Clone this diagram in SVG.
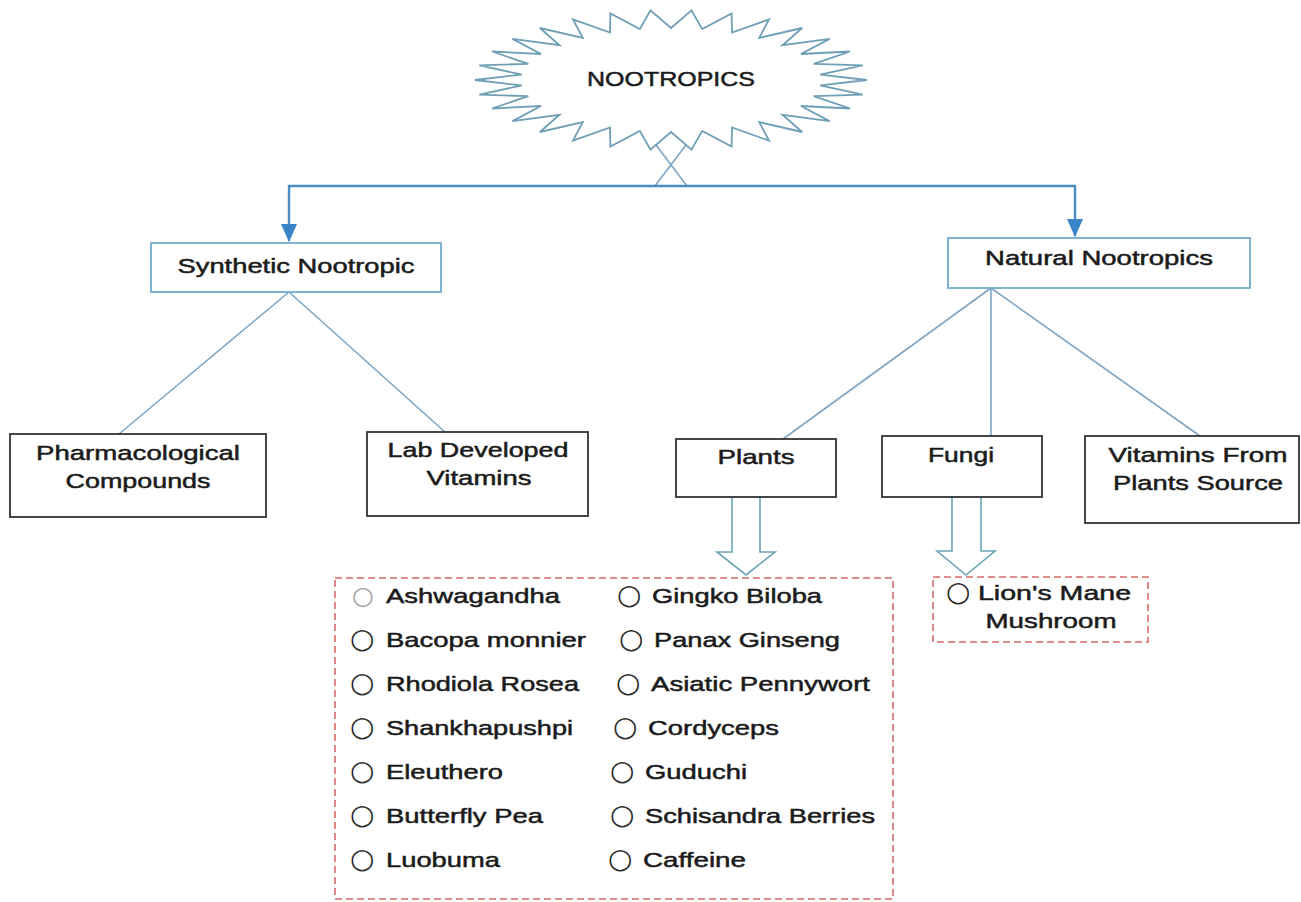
<svg xmlns="http://www.w3.org/2000/svg" width="1301" height="902" viewBox="0 0 1301 902">
<defs>
<style>
.t{font-family:"Liberation Sans",Arial,sans-serif;font-size:21px;fill:#1b1b1b;stroke:#1b1b1b;stroke-width:0.5}
.m{text-anchor:middle}
.b{font-family:"DejaVu Sans",sans-serif;font-size:28px;fill:#2a2a2a}
.blk{fill:#fff;stroke:#333;stroke-width:1.8}
.blu{fill:#fff;stroke:#7fb2d0;stroke-width:2}
.dash{fill:#fff;stroke:#d66b6b;stroke-width:1.6;stroke-dasharray:7 4}
.ln{fill:none;stroke:#7ea6c4;stroke-width:1.6}
.main{fill:none;stroke:#4a8cc4;stroke-width:2.4}
.hol{fill:#fff;stroke:#6aa5b5;stroke-width:1.6}
</style>
<marker id="ah" markerUnits="userSpaceOnUse" markerWidth="18" markerHeight="16" refX="17" refY="8" orient="auto">
<path d="M0,0 L18,8 L0,16 z" fill="#3a84c8"/>
</marker>
</defs>
<rect width="1301" height="902" fill="#fff"/>
<g id="connectors">
<line class="ln" x1="655" y1="186" x2="689" y2="141"/>
<line class="ln" x1="687" y1="186" x2="653" y2="141"/>
<path class="main" d="M671,186 H289 V241" marker-end="url(#ah)"/>
<path class="main" d="M671,186 H1075 V236" marker-end="url(#ah)"/>
<line class="ln" x1="289" y1="292" x2="119" y2="434"/>
<line class="ln" x1="289" y1="292" x2="445" y2="432"/>
<line class="ln" x1="991" y1="288" x2="783" y2="439"/>
<line class="ln" x1="991" y1="288" x2="991" y2="436"/>
<line class="ln" x1="991" y1="288" x2="1200" y2="436"/>
<path class="hol" d="M732,497 V552 H717 L746,575 L775,552 H760 V497"/>
<path class="hol" d="M952,497 V551 H937 L966,575 L995,551 H981 V497"/>
</g>
<g id="nootropics">
<polygon fill="#fff" stroke="#6e9fb5" stroke-width="1.8" stroke-linejoin="miter" points="867,80 820.2,85.4 862.7,94.6 813.7,96.1 850,108.5 800.9,106 829.6,121.1 782.5,114.8 802.1,132 759.2,122.1 769,140.6 732,127.5 731.6,146.6 702.2,130.9 691.5,149.6 671,132 650.5,149.6 639.8,130.9 610.4,146.6 610,127.5 573,140.6 582.8,122.1 539.9,132 559.5,114.8 512.4,121.1 541.1,106 492,108.5 528.3,96.1 479.3,94.6 521.8,85.4 475,80 521.8,74.6 479.3,65.4 528.3,63.9 492,51.5 541.1,54 512.4,38.9 559.5,45.2 539.9,28 582.8,37.9 573,19.4 610,32.5 610.4,13.4 639.8,29.1 650.5,10.4 671,28 691.5,10.4 702.2,29.1 731.6,13.4 732,32.5 769,19.4 759.2,37.9 802.1,28 782.5,45.2 829.6,38.9 800.9,54 850,51.5 813.7,63.9 862.7,65.4 820.2,74.6"/>
<text class="t m" x="671" y="86" textLength="168" lengthAdjust="spacingAndGlyphs">NOOTROPICS</text>
</g>
<g id="synthetic">
<rect class="blu" x="151" y="243" width="290" height="49"/>
<text class="t m" x="296" y="273" textLength="237" lengthAdjust="spacingAndGlyphs">Synthetic Nootropic</text>
</g>
<g id="natural">
<rect class="blu" x="948" y="238" width="302" height="50"/>
<text class="t m" x="1099" y="265" textLength="228" lengthAdjust="spacingAndGlyphs">Natural Nootropics</text>
</g>
<g id="pharmacological">
<rect class="blk" x="10" y="434" width="256" height="83"/>
<text class="t m" x="138" y="460" textLength="204" lengthAdjust="spacingAndGlyphs">Pharmacological</text>
<text class="t m" x="138" y="488" textLength="145" lengthAdjust="spacingAndGlyphs">Compounds</text>
</g>
<g id="lab">
<rect class="blk" x="367" y="432" width="221" height="84"/>
<text class="t m" x="478" y="457" textLength="181" lengthAdjust="spacingAndGlyphs">Lab Developed</text>
<text class="t m" x="479" y="485" textLength="105" lengthAdjust="spacingAndGlyphs">Vitamins</text>
</g>
<g id="plants">
<rect class="blk" x="676" y="439" width="160" height="58"/>
<text class="t m" x="756" y="464" textLength="77" lengthAdjust="spacingAndGlyphs">Plants</text>
</g>
<g id="fungi">
<rect class="blk" x="882" y="436" width="160" height="61"/>
<text class="t m" x="961" y="462" textLength="66" lengthAdjust="spacingAndGlyphs">Fungi</text>
</g>
<g id="vitamins-plants">
<rect class="blk" x="1085" y="436" width="214" height="87"/>
<text class="t m" x="1198" y="462" textLength="179" lengthAdjust="spacingAndGlyphs">Vitamins From</text>
<text class="t m" x="1198" y="490" textLength="170" lengthAdjust="spacingAndGlyphs">Plants Source</text>
</g>
<g id="plant-list">
<rect class="dash" x="335" y="578" width="558" height="321"/>
<text class="b" x="352" y="604" style="fill:#a0a0a0;font-size:25px">○</text>
<text class="t" x="386" y="603" textLength="174" lengthAdjust="spacingAndGlyphs">Ashwagandha</text>
<text class="b" x="350" y="648">○</text>
<text class="t" x="386" y="647" textLength="200" lengthAdjust="spacingAndGlyphs">Bacopa monnier</text>
<text class="b" x="350" y="692">○</text>
<text class="t" x="386" y="691" textLength="193" lengthAdjust="spacingAndGlyphs">Rhodiola Rosea</text>
<text class="b" x="350" y="736">○</text>
<text class="t" x="386" y="735" textLength="187" lengthAdjust="spacingAndGlyphs">Shankhapushpi</text>
<text class="b" x="350" y="780">○</text>
<text class="t" x="386" y="779" textLength="117" lengthAdjust="spacingAndGlyphs">Eleuthero</text>
<text class="b" x="350" y="824">○</text>
<text class="t" x="386" y="823" textLength="157" lengthAdjust="spacingAndGlyphs">Butterfly Pea</text>
<text class="b" x="350" y="868">○</text>
<text class="t" x="386" y="867" textLength="114" lengthAdjust="spacingAndGlyphs">Luobuma</text>
<text class="b" x="617" y="604">○</text>
<text class="t" x="652" y="603" textLength="170" lengthAdjust="spacingAndGlyphs">Gingko Biloba</text>
<text class="b" x="619" y="648">○</text>
<text class="t" x="654" y="647" textLength="186" lengthAdjust="spacingAndGlyphs">Panax Ginseng</text>
<text class="b" x="616" y="692">○</text>
<text class="t" x="651" y="691" textLength="219" lengthAdjust="spacingAndGlyphs">Asiatic Pennywort</text>
<text class="b" x="613" y="736">○</text>
<text class="t" x="648" y="735" textLength="131" lengthAdjust="spacingAndGlyphs">Cordyceps</text>
<text class="b" x="610" y="780">○</text>
<text class="t" x="645" y="779" textLength="102" lengthAdjust="spacingAndGlyphs">Guduchi</text>
<text class="b" x="610" y="824">○</text>
<text class="t" x="645" y="823" textLength="230" lengthAdjust="spacingAndGlyphs">Schisandra Berries</text>
<text class="b" x="608" y="868">○</text>
<text class="t" x="643" y="867" textLength="103" lengthAdjust="spacingAndGlyphs">Caffeine</text>
</g>
<g id="fungi-list">
<rect class="dash" x="933" y="577" width="215" height="65"/>
<text class="b" x="946" y="601">○</text>
<text class="t" x="978" y="600" textLength="153" lengthAdjust="spacingAndGlyphs">Lion's Mane</text>
<text class="t m" x="1051" y="628" textLength="131" lengthAdjust="spacingAndGlyphs">Mushroom</text>
</g>
</svg>
